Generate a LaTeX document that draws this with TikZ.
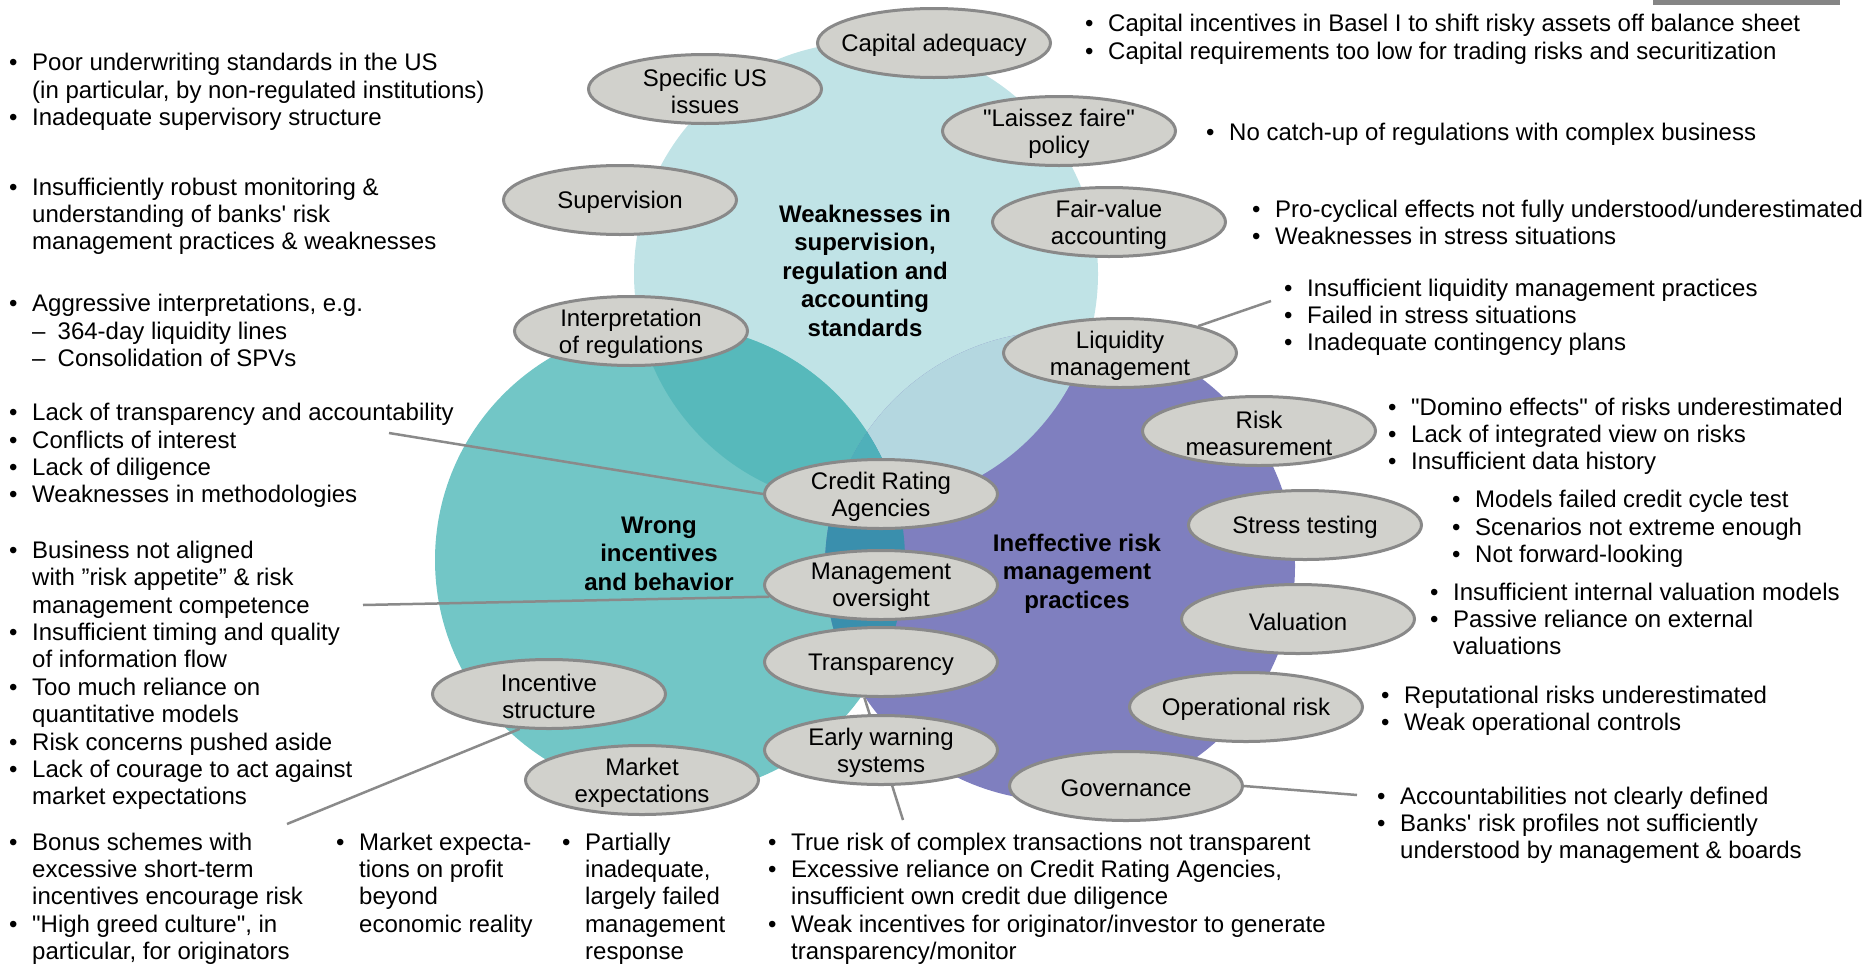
\documentclass[tikz,border=0pt]{standalone}
\usepackage{fontspec}
\setmainfont{Liberation Sans}
\usetikzlibrary{shapes.geometric}

% Venn region colours
\definecolor{cTop}{HTML}{C0E3E6}
\definecolor{cLeft}{HTML}{72C6C6}
\definecolor{cRight}{HTML}{7F7FBF}
\definecolor{cTL}{HTML}{57B9BB}
\definecolor{cTR}{HTML}{B4D7E0}
\definecolor{cLR}{HTML}{3A8FAD}
\definecolor{cTLR}{HTML}{4FB0BA}
% ovals and connectors
\definecolor{ovalFill}{HTML}{D1D1CC}
\definecolor{ovalLine}{HTML}{898989}
\definecolor{linkGray}{HTML}{8A8A8A}
\definecolor{barGray}{HTML}{858585}

\pgfdeclarelayer{venn}
\pgfdeclarelayer{links}
\pgfsetlayers{venn,links,main}

\newcommand{\bul}{\llap{\makebox[23pt][l]{•}}}
\newcommand{\subitm}{\makebox[25.5pt][l]{–}}
\newcommand{\apos}{\textquotesingle}
\newcommand{\dq}{\textquotedbl}
\newcommand{\blk}[1]{\begin{tabular}[t]{@{}l@{}}#1\end{tabular}}

\tikzset{
  txt/.style={anchor=base west, inner sep=0pt, font=\fontsize{24pt}{27.4pt}\selectfont},
  oval/.style={ellipse, draw=ovalLine, fill=ovalFill, line width=3pt,
               minimum width=233pt, minimum height=69pt, inner sep=0pt},
  ovaltxt/.style={align=center, inner sep=0pt, yshift=-2.5pt,
                  font=\fontsize{24pt}{27.4pt}\selectfont},
  hdr/.style={align=center, inner sep=0pt, yshift=-1.5pt,
              font=\fontsize{24pt}{28.5pt}\selectfont\bfseries},
  link/.style={draw=linkGray, line width=2.5pt}
}

\begin{document}
\begin{tikzpicture}[x=1pt,y=-1pt]
\useasboundingbox (0,0) rectangle (1866,964);

% ---------- three overlapping circles ----------
\begin{pgfonlayer}{venn}
  \fill[cTop]   (866,274)  circle[radius=232pt];
  \fill[cLeft]  (670,560)  circle[radius=235pt];
  \fill[cRight] (1060,566) circle[radius=235pt];
  \begin{scope}
    \clip (866,274) circle[radius=232pt];
    \fill[cTL] (670,560)  circle[radius=235pt];
    \fill[cTR] (1060,566) circle[radius=235pt];
  \end{scope}
  \begin{scope}
    \clip (670,560) circle[radius=235pt];
    \fill[cLR] (1060,566) circle[radius=235pt];
    \clip (866,274) circle[radius=232pt];
    \fill[cTLR] (1060,566) circle[radius=235pt];
  \end{scope}
  \fill[barGray] (1653,0) rectangle (1840,5);
\end{pgfonlayer}

% ---------- circle titles ----------
\node[hdr] (tTop)   at (865,269) {Weaknesses in\\supervision,\\regulation and\\accounting\\standards};
\node[hdr] (tLeft)  at (659,552) {Wrong\\incentives\\and behavior};
\node[hdr] (tRight) at (1077,572) {Ineffective risk\\management\\practices};

% ---------- ovals ----------
\node[oval] (cap)    at (934,43)   {};
\node[oval] (spec)   at (705,89)   {};
\node[oval] (lais)   at (1059,131) {};
\node[oval] (sup)    at (620,200)  {};
\node[oval] (fair)   at (1109,222) {};
\node[oval] (interp) at (631,331)  {};
\node[oval] (liq)    at (1120,353) {};
\node[oval] (riskm)  at (1259,431) {};
\node[oval] (cra)    at (881,494)  {};
\node[oval] (stress) at (1305,525) {};
\node[oval] (mgmt)   at (881,585)  {};
\node[oval] (val)    at (1298,619) {};
\node[oval] (trans)  at (881,662)  {};
\node[oval] (inc)    at (549,694)  {};
\node[oval] (oprisk) at (1246,707) {};
\node[oval] (early)  at (881,750)  {};
\node[oval] (mkt)    at (642,780)  {};
\node[oval] (gov)    at (1126,786) {};

\node[ovaltxt] at (cap)    {Capital adequacy};
\node[ovaltxt] at (spec)   {Specific US\\issues};
\node[ovaltxt] at (lais)   {\dq Laissez faire\dq\\policy};
\node[ovaltxt] at (sup)    {Supervision};
\node[ovaltxt] at (fair)   {Fair-value\\accounting};
\node[ovaltxt] at (interp) {Interpretation\\of regulations};
\node[ovaltxt] at (liq)    {Liquidity\\management};
\node[ovaltxt] at (riskm)  {Risk\\measurement};
\node[ovaltxt] at (cra)    {Credit Rating\\Agencies};
\node[ovaltxt] at (stress) {Stress testing};
\node[ovaltxt] at (mgmt)   {Management\\oversight};
\node[ovaltxt] at (val)    {Valuation};
\node[ovaltxt] at (trans)  {Transparency};
\node[ovaltxt] at (inc)    {Incentive\\structure};
\node[ovaltxt] at (oprisk) {Operational risk};
\node[ovaltxt] at (early)  {Early warning\\systems};
\node[ovaltxt] at (mkt)    {Market\\expectations};
\node[ovaltxt] at (gov)    {Governance};

% ---------- bullet lists, left column ----------
\node[txt] (lA) at (32,70.7) {\blk{\bul Poor underwriting standards in the US\\
  (in particular, by non-regulated institutions)\\
  \bul Inadequate supervisory structure}};
\node[txt] (lB) at (32,195) {\blk{\bul Insufficiently robust monitoring \&\\
  understanding of banks\apos{} risk\\
  management practices \& weaknesses}};
\node[txt] (lC) at (32,311.7) {\blk{\bul Aggressive interpretations, e.g.\\
  \subitm 364-day liquidity lines\\
  \subitm Consolidation of SPVs}};
\node[txt] (lD) at (32,420.7) {\blk{\bul Lack of transparency and accountability\\
  \bul Conflicts of interest\\
  \bul Lack of diligence\\
  \bul Weaknesses in methodologies}};
\node[txt] (lE) at (32,558.3) {\blk{\bul Business not aligned\\
  with ”risk appetite” \& risk\\
  management competence\\
  \bul Insufficient timing and quality\\
  of information flow\\
  \bul Too much reliance on\\
  quantitative models\\
  \bul Risk concerns pushed aside\\
  \bul Lack of courage to act against\\
  market expectations}};

% ---------- bullet lists, bottom row ----------
\node[txt] (lF) at (32,850) {\blk{\bul Bonus schemes with\\
  excessive short-term\\
  incentives encourage risk\\
  \bul \dq High greed culture\dq, in\\
  particular, for originators}};
\node[txt] (lG) at (359,850) {\blk{\bul Market expecta-\\
  tions on profit\\
  beyond\\
  economic reality}};
\node[txt] (lH) at (585,850) {\blk{\bul Partially\\
  inadequate,\\
  largely failed\\
  management\\
  response}};
\node[txt] (lI) at (791,850) {\blk{\bul True risk of complex transactions not transparent\\
  \bul Excessive reliance on Credit Rating Agencies,\\
  insufficient own credit due diligence\\
  \bul Weak incentives for originator/investor to generate\\
  transparency/monitor}};

% ---------- bullet lists, right side ----------
\node[txt] (lJ) at (1108,31.6) {\blk{\bul Capital incentives in Basel I to shift risky assets off balance sheet\\
  \bul Capital requirements too low for trading risks and securitization}};
\node[txt] (lK) at (1229,140) {\blk{\bul No catch-up of regulations with complex business}};
\node[txt] (lL) at (1275,217) {\blk{\bul Pro-cyclical effects not fully understood/underestimated\\
  \bul Weaknesses in stress situations}};
\node[txt] (lM) at (1307,296) {\blk{\bul Insufficient liquidity management practices\\
  \bul Failed in stress situations\\
  \bul Inadequate contingency plans}};
\node[txt] (lN) at (1411,415) {\blk{\bul \dq Domino effects\dq{} of risks underestimated\\
  \bul Lack of integrated view on risks\\
  \bul Insufficient data history}};
\node[txt] (lO) at (1475,507.6) {\blk{\bul Models failed credit cycle test\\
  \bul Scenarios not extreme enough\\
  \bul Not forward-looking}};
\node[txt] (lP) at (1453,600) {\blk{\bul Insufficient internal valuation models\\
  \bul Passive reliance on external\\
  valuations}};
\node[txt] (lQ) at (1404,703) {\blk{\bul Reputational risks underestimated\\
  \bul Weak operational controls}};
\node[txt] (lR) at (1400,804) {\blk{\bul Accountabilities not clearly defined\\
  \bul Banks\apos{} risk profiles not sufficiently\\
  understood by management \& boards}};

% ---------- connectors from ovals to their lists ----------
\coordinate (endD) at (389,433);
\coordinate (endE) at (363,605);
\coordinate (endF) at (287,824);
\coordinate (endI) at (903,820);
\coordinate (endM) at (1271,301);
\coordinate (endR) at (1357,795);
\begin{pgfonlayer}{links}
  \draw[link] (endD) -- (cra.west);
  \draw[link] (endE) -- (mgmt.186);
  \draw[link] (endF) -- (inc.230);
  \draw[link] (trans.245) -- (endI);
  \draw[link] (liq) -- (endM);
  \draw[link] (gov.east) -- (endR);
\end{pgfonlayer}
\end{tikzpicture}
\end{document}
